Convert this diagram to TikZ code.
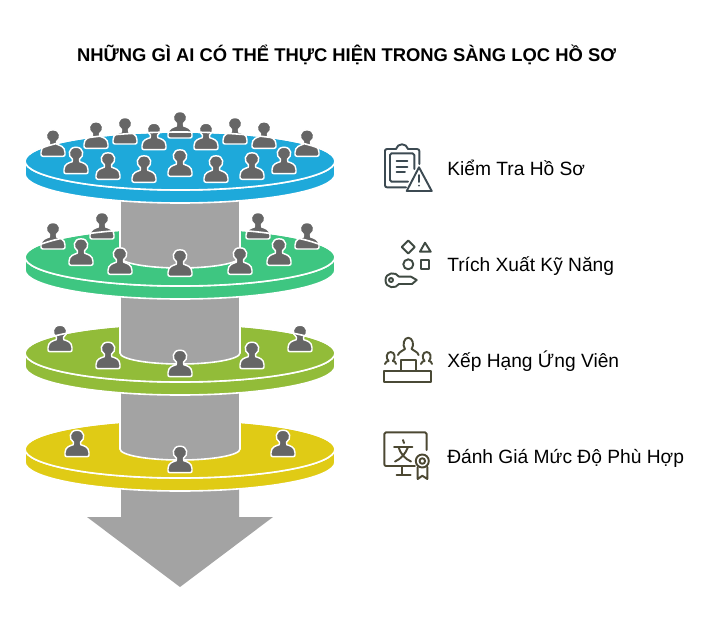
\documentclass[tikz,border=0pt]{standalone}
\usepackage{fontspec}
\setmainfont{Liberation Sans}
\definecolor{discblue}{HTML}{1EA9DA}
\definecolor{discgreen}{HTML}{3EC681}
\definecolor{discolive}{HTML}{92BC39}
\definecolor{discyellow}{HTML}{E0CB15}
\definecolor{shaftgray}{HTML}{A3A3A3}
\definecolor{persongray}{HTML}{666666}
\definecolor{iconslate}{HTML}{3C4A52}
\definecolor{iconmoss}{HTML}{3F4A42}
\definecolor{iconolive}{HTML}{4A4A36}
\definecolor{iconbrown}{HTML}{4C4832}
\tikzset{
  rimline/.style={draw=white,line width=1.2pt},
  personshape/.style={fill=persongray,draw=white,line width=1.1pt,line join=round},
  iconline/.style={line width=1.45pt,line cap=round,line join=round},
  sidelabel/.style={anchor=base west,inner sep=0pt,font=\fontsize{14.4}{16}\selectfont}
}
\newcommand{\disc}[2]{
\draw[rimline,fill=#2] (25,#1) arc (180:0:155 and 29) -- (335,#1+13) arc (0:180:155 and 29) -- cycle;
\draw[rimline,fill=#2] (180,#1) ellipse [x radius=155,y radius=29];
}
\newcommand{\shaft}[1]{
\draw[rimline,fill=shaftgray] (120,#1-60) -- (120,#1) arc (180:0:60 and 11) -- (240,#1-60) -- cycle;
}
\newcommand{\rim}[1]{
\draw[rimline] (25,#1) arc (180:247:155 and 29);
\draw[rimline] (335,#1) arc (360:293:155 and 29);
}
\newcommand{\person}[2]{
\draw[personshape,shift={(#1,#2)}] (-10,-1) -- (10,-1) .. controls (11.5,-1) and (12,-2) .. (12,-3) -- (12,-5) .. controls (12,-11) and (6.5,-12) .. (3.8,-13) .. controls (3.1,-13.8) and (3.1,-14.5) .. (3.5,-15.5) .. controls (8.5,-18.5) and (8,-27.5) .. (0,-27.5) .. controls (-8,-27.5) and (-8.5,-18.5) .. (-3.5,-15.5) .. controls (-3.1,-14.5) and (-3.1,-13.8) .. (-3.8,-13) .. controls (-6.5,-12) and (-12,-11) .. (-12,-5) -- (-12,-3) .. controls (-12,-2) and (-11.5,-1) .. (-10,-1) -- cycle;
}
\begin{document}
\begin{tikzpicture}[x=0.75pt,y=-0.75pt]
\useasboundingbox (0,0) rectangle (709,637);
\node[anchor=base,inner sep=0pt,font=\bfseries\fontsize{13.8}{16}\selectfont] (title) at (346.5,61) {NHỮNG GÌ AI CÓ THỂ THỰC HIỆN TRONG SÀNG LỌC HỒ SƠ};
\fill[shaftgray] (121,470) -- (239,470) -- (239,517) -- (273,517) -- (180,587) -- (87,517) -- (121,517) -- cycle;
\disc{449}{discyellow}
\shaft{449}
\foreach \x/\y in {77/457.7,283/457.7,180/473.7}
  \person{\x}{\y};
\rim{449}
\disc{353}{discolive}
\shaft{353}
\foreach \x/\y in {60/352.7,300/352.7,108/369.7,252/369.7,180/377.7}
  \person{\x}{\y};
\rim{353}
\disc{257}{discgreen}
\shaft{257}
\foreach \x/\y in {53/250,102/240,258/240,307/250,81/266.3,279/266.3,120/275.3,240/275.3,180/277.3}
  \person{\x}{\y};
\rim{257}
\disc{161}{discblue}
\foreach \x/\y in {53/157.3,96/149.3,125/145,154/150.7,180/139,206/150.7,235/145,264/149.3,307/157.3,76/174.7,108/180.3,144/183.3,180/177.3,216/183.3,252/180.3,284/174.7}
  \person{\x}{\y};
\draw[rimline] (335,161) arc (360:180:155 and 29);
\node[sidelabel] (check) at (447,175) {Kiểm Tra Hồ Sơ};
\node[sidelabel] (skill) at (447,271) {Trích Xuất Kỹ Năng};
\node[sidelabel] (rank) at (447,367) {Xếp Hạng Ứng Viên};
\node[sidelabel] (fit) at (447,463) {Đánh Giá Mức Độ Phù Hợp};
\begin{scope}[iconline,draw=iconslate]
\draw (396,149) -- (387,149) .. controls (385.5,149) and (385,150) .. (385,151) -- (385,185) .. controls (385,186.5) and (385.5,187.3) .. (387,187.3) -- (406,187.3);
\draw (396,149) .. controls (397,146) and (399,144.3) .. (402,144.3) .. controls (405,144.3) and (407,146) .. (408,149) -- (417,149) .. controls (418.5,149) and (419.3,150) .. (419.3,151) -- (419.3,164);
\draw (414.3,169) -- (414.3,155) .. controls (414.3,154) and (413.5,153.3) .. (412.5,153.3) -- (391.5,153.3) .. controls (390.5,153.3) and (390,154) .. (390,155) -- (390,180) .. controls (390,181) and (390.5,181.7) .. (391.5,181.7) -- (408,181.7);
\draw (396.7,160.7) -- (407.3,160.7);
\draw (396.7,166.7) -- (407.3,166.7);
\draw (396.7,172.3) -- (405,172.3);
\draw (419,167.3) -- (431.7,191) -- (406.7,191) -- cycle;
\draw (419,175) -- (419,182);
\fill[iconslate] (419,185.7) circle (1);
\end{scope}
\begin{scope}[iconline,draw=iconmoss]
\draw (408.3,240.5) -- (414.8,247) -- (408.3,253.5) -- (401.8,247) -- cycle;
\draw (425,242.7) -- (430.7,251.7) -- (420,251.7) -- cycle;
\draw (408.3,264.3) circle (5);
\draw (420.7,260) rectangle (429.3,268.7);
\draw (399,276.7) -- (411,276.7) -- (416.7,280) -- (412,284) -- (399,284) .. controls (396,289) and (385.5,288.5) .. (385.5,280.3) .. controls (385.5,272) and (396,271.5) .. (399,276.7);
\draw (391,280) circle (2);
\end{scope}
\begin{scope}[iconline,draw=iconolive]
\draw (384.3,370.7) rectangle (430.7,382.3);
\draw (401,370.7) -- (401,360) -- (415.7,360) -- (415.7,370.7);
\draw (398,355) .. controls (399,351.5) and (403,351) .. (405,349) .. controls (402,345) and (404,337.7) .. (408.3,337.7) .. controls (412.6,337.7) and (414.6,345) .. (411.6,349) .. controls (413.6,351) and (417.6,351.5) .. (418.6,355);
\draw (385,364) .. controls (385,361.5) and (387.5,361.5) .. (388.5,361) .. controls (385.5,358) and (386.5,352) .. (390.7,352) .. controls (394.9,352) and (395.9,358) .. (392.9,361) .. controls (393.9,361.5) and (396,361.5) .. (396,364);
\draw (421,364) .. controls (421,361.5) and (423.5,361.5) .. (424.5,361) .. controls (421.5,358) and (422.5,352) .. (426.7,352) .. controls (430.9,352) and (431.9,358) .. (428.9,361) .. controls (429.9,361.5) and (432,361.5) .. (432,364);
\end{scope}
\begin{scope}[iconline,draw=iconbrown]
\draw (426.7,450) -- (426.7,434) .. controls (426.7,433) and (426,432.3) .. (425,432.3) -- (386,432.3) .. controls (385,432.3) and (384.3,433) .. (384.3,434) -- (384.3,464) .. controls (384.3,465) and (385,466) .. (386,466) -- (415,466);
\draw (401.7,466) -- (401.7,475);
\draw (396.7,475) -- (410.7,475);
\draw (403,440) -- (404,443);
\draw (394,446.7) -- (412.3,446.7);
\draw (398.5,447) .. controls (400,453) and (405,459) .. (411,461.5);
\draw (408,447) .. controls (406,453) and (401,459) .. (395,461.5);
\draw (422.3,461) circle (6.5);
\draw (422.3,461) circle (2.8);
\draw (417.7,467) -- (417.7,479) -- (422.3,475.7) -- (427.3,479) -- (427.3,467);
\end{scope}
\end{tikzpicture}
\end{document}
